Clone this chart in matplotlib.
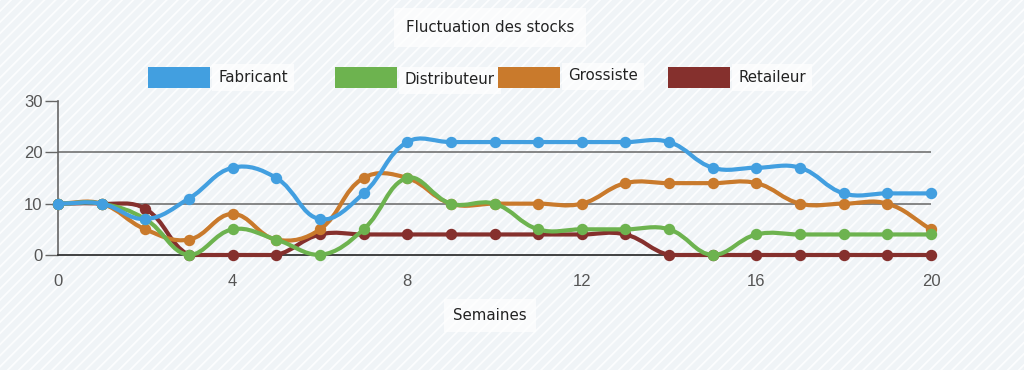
import numpy as np
import matplotlib
matplotlib.use('Agg')
import matplotlib.pyplot as plt
from matplotlib.path import Path
from matplotlib.patches import PathPatch, Rectangle

# ---- data ----
weeks = list(range(21))
fabricant = [10, 10, 7, 11, 17, 15, 7, 12, 22, 22, 22, 22, 22, 22, 22, 17, 17, 17, 12, 12, 12]
distributeur = [10, 10, 7, 0, 5, 3, 0, 5, 15, 10, 10, 5, 5, 5, 5, 0, 4, 4, 4, 4, 4]
grossiste = [10, 10, 5, 3, 8, 3, 5, 15, 15, 10, 10, 10, 10, 14, 14, 14, 14, 10, 10, 10, 5]
retailleur = [10, 10, 9, 0, 0, 0, 4, 4, 4, 4, 4, 4, 4, 4, 0, 0, 0, 0, 0, 0, 0]
series_names = ["Fabricant", "Distributeur", "Grossiste", "Retaileur"]
series_values = [fabricant, distributeur, grossiste, retailleur]
series_colors = ["#429fe0", "#6db34f", "#c97a2c", "#85302d"]
y_ticks = [0, 10, 20, 30]
x_ticks = [0, 4, 8, 12, 16, 20]
title = "Fluctuation des stocks"
xlabel = "Semaines"

W, H = 1024, 370
fig = plt.figure(figsize=(W / 100, H / 100), dpi=100)
fig.patch.set_facecolor('#f0f4f7')
plt.rcParams['hatch.linewidth'] = 1.3
bg = Rectangle((0, 0), 1, 1, transform=fig.transFigure, facecolor='#f0f4f7',
               edgecolor='#fcfdfe', hatch='///', lw=0, zorder=-10)
fig.patches.append(bg)

L, R, T, B = 58, 931, 101, 255
ax = fig.add_axes([L / W, 1 - B / H, (R - L) / W, (B - T) / H])
ax.set_facecolor('none')
ax.set_xlim(0, 20)
ax.set_ylim(0, 30)

sx = (R - L) / 20.0
sy = (B - T) / 30.0


def chartjs_path(xs, ys, t=0.4):
    px = np.asarray(xs, float) * sx
    py = np.asarray(ys, float) * sy
    n = len(px)
    cprev, cnext = [], []
    for i in range(n):
        a = i - 1 if i > 0 else i
        c = i + 1 if i < n - 1 else i
        d01 = np.hypot(px[i] - px[a], py[i] - py[a])
        d12 = np.hypot(px[c] - px[i], py[c] - py[i])
        tot = d01 + d12
        s01 = d01 / tot if tot else 0
        s12 = d12 / tot if tot else 0
        fa, fb = t * s01, t * s12
        dx, dy = px[c] - px[a], py[c] - py[a]
        cprev.append([px[i] - fa * dx, py[i] - fa * dy])
        cnext.append([px[i] + fb * dx, py[i] + fb * dy])
    cprev = np.array(cprev)
    cnext = np.array(cnext)
    for arr in (cprev, cnext):
        arr[:, 0] = np.clip(arr[:, 0], 0, 20 * sx)
        arr[:, 1] = np.clip(arr[:, 1], 0, 30 * sy)
    verts = [(px[0] / sx, py[0] / sy)]
    codes = [Path.MOVETO]
    for i in range(1, n):
        verts += [(cnext[i - 1][0] / sx, cnext[i - 1][1] / sy),
                  (cprev[i][0] / sx, cprev[i][1] / sy),
                  (px[i] / sx, py[i] / sy)]
        codes += [Path.CURVE4] * 3
    return Path(verts, codes)


for k, (name, vals, col) in enumerate(zip(series_names, series_values, series_colors)):
    z = 10 - k
    ax.add_patch(PathPatch(chartjs_path(weeks, vals), facecolor='none', edgecolor=col,
                           lw=3.0, capstyle='round', joinstyle='round', zorder=z, clip_on=False))
    ax.plot(weeks, vals, 'o', color=col, markersize=7.2, zorder=z + 0.5, clip_on=False)

# axes styling
for s in ['top', 'right']:
    ax.spines[s].set_visible(False)
ax.spines['left'].set_color('#666666')
ax.spines['left'].set_linewidth(1.2)
ax.spines['bottom'].set_color('#333333')
ax.spines['bottom'].set_linewidth(1.3)
ax.set_yticks(y_ticks)
ax.set_xticks(x_ticks)
ax.tick_params(axis='y', length=9.5, width=1.0, color='#666666', pad=1.5,
               labelsize=12, labelcolor='#555555')
ax.tick_params(axis='x', length=0, pad=14, labelsize=12, labelcolor='#555555')
for lab in ax.get_xticklabels() + ax.get_yticklabels():
    lab.set_family('Liberation Sans')
for yv in y_ticks[1:-1]:
    ax.axhline(yv, color='#666666', lw=1.1, zorder=1)

# title & axis label with white boxes
fig.text(490 / W, 1 - 27 / H, title, ha='center', va='center', fontsize=10.8,
         family='DejaVu Sans', color='#222222',
         bbox=dict(facecolor='white', edgecolor='none', boxstyle='square,pad=0.8', alpha=0.7))
fig.text(490 / W, 1 - 315 / H, xlabel, ha='center', va='center', fontsize=10.8,
         family='DejaVu Sans', color='#222222',
         bbox=dict(facecolor='white', edgecolor='none', boxstyle='square,pad=0.6', alpha=0.7))

# legend
box_x = [148, 335, 498, 668]
text_y = [77, 80, 76, 77]
for bx, ty, name, col in zip(box_x, text_y, series_names, series_colors):
    fig.patches.append(Rectangle((bx / W, 1 - 88 / H), 62 / W, 21 / H,
                                 transform=fig.transFigure, facecolor=col, edgecolor='none',
                                 zorder=5))
    fig.text((bx + 70) / W, 1 - ty / H, name, ha='left', va='center', fontsize=10.8,
             family='DejaVu Sans', color='#222222', zorder=4,
             bbox=dict(facecolor='white', edgecolor='none', boxstyle='square,pad=0.4', alpha=0.7))

fig.savefig('out.png', dpi=100, facecolor=fig.get_facecolor())
